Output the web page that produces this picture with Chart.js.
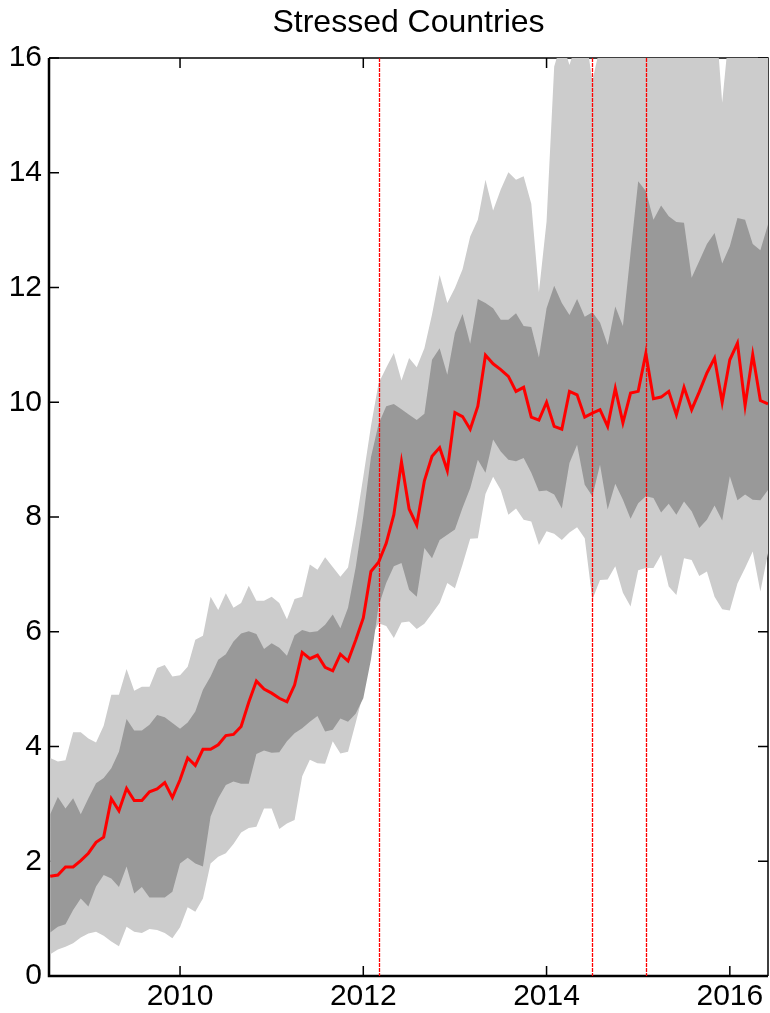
<!DOCTYPE html>
<html>
<head>
<meta charset="utf-8">
<title>Stressed Countries</title>
<script src="https://cdn.jsdelivr.net/npm/chart.js@4.4.1/dist/chart.umd.min.js"></script>
<style>
  html, body { margin: 0; padding: 0; background: #fff; }
  #wrap { width: 770px; height: 1013px; }
</style>
</head>
<body>
<div id="wrap"><canvas id="grafica" width="770" height="1013"></canvas></div>
<script>
// --- Datos (mensual, ago 2008 - jun 2016) ---
const startYear = 2008;
const startMonth = 8; // agosto

// mediana (linea roja)
const median = [
  1.74, 1.76, 1.90, 1.90, 2.01, 2.14, 2.33, 2.42, 3.09, 2.88,
  3.27, 3.06, 3.06, 3.21, 3.26, 3.37, 3.11, 3.42, 3.80, 3.67,
  3.95, 3.95, 4.03, 4.19, 4.21, 4.35, 4.77, 5.14, 5.00, 4.93,
  4.84, 4.78, 5.07, 5.64, 5.53, 5.59, 5.38, 5.32, 5.61, 5.49,
  5.85, 6.24, 7.05, 7.21, 7.54, 8.04, 8.96, 8.14, 7.86, 8.63,
  9.06, 9.21, 8.81, 9.82, 9.75, 9.53, 9.93, 10.82, 10.67, 10.57,
  10.45, 10.19, 10.26, 9.74, 9.69, 10.00, 9.58, 9.53, 10.19, 10.13,
  9.74, 9.81, 9.87, 9.58, 10.24, 9.64, 10.16, 10.19, 10.85, 10.06,
  10.09, 10.19, 9.78, 10.26, 9.87, 10.18, 10.51, 10.77, 10.00, 10.74,
  11.03, 9.94, 10.83, 10.03, 9.97
];

// banda oscura (cuartiles)
const upperInner = [
  2.82, 3.12, 2.92, 3.10, 2.82, 3.10, 3.36, 3.45, 3.62, 3.91,
  4.48, 4.28, 4.28, 4.38, 4.55, 4.51, 4.41, 4.31, 4.42, 4.61,
  4.99, 5.22, 5.51, 5.61, 5.83, 5.97, 6.01, 5.96, 5.70, 5.80,
  5.72, 5.58, 5.94, 6.03, 5.99, 6.01, 6.12, 6.30, 6.06, 6.42,
  7.12, 8.01, 9.04, 9.62, 9.93, 9.97, 9.88, 9.78, 9.69, 9.80,
  10.74, 10.94, 10.48, 11.21, 11.54, 11.02, 11.80, 11.73, 11.64, 11.44,
  11.44, 11.55, 11.33, 11.31, 10.78, 11.64, 12.03, 11.73, 11.52, 11.80,
  11.49, 11.57, 11.39, 11.00, 11.67, 11.33, 12.60, 13.85, 13.68, 13.18,
  13.43, 13.24, 13.14, 13.13, 12.17, 12.46, 12.76, 12.95, 12.42, 12.72,
  13.21, 13.18, 12.76, 12.65, 13.10
];
const lowerInner = [
  0.76, 0.86, 0.90, 1.15, 1.35, 1.21, 1.56, 1.76, 1.70, 1.55,
  1.91, 1.44, 1.55, 1.37, 1.37, 1.37, 1.47, 1.96, 2.06, 1.96,
  1.91, 2.78, 3.10, 3.33, 3.39, 3.35, 3.35, 3.87, 3.93, 3.89,
  3.90, 4.09, 4.23, 4.32, 4.43, 4.53, 4.26, 4.29, 4.49, 4.43,
  4.57, 4.84, 5.51, 6.45, 6.85, 7.14, 7.20, 6.73, 6.61, 7.46,
  7.28, 7.60, 7.69, 7.78, 8.16, 8.50, 9.00, 8.77, 9.35, 9.14,
  9.00, 8.97, 9.03, 8.77, 8.45, 8.46, 8.39, 8.15, 8.94, 9.26,
  8.56, 8.36, 8.91, 8.13, 8.58, 8.30, 7.97, 8.24, 8.36, 8.33,
  8.08, 8.23, 8.04, 8.27, 8.10, 7.81, 7.95, 8.20, 7.94, 8.71,
  8.29, 8.39, 8.30, 8.29, 8.47
];

// banda clara (percentiles extremos); arriba de 16 queda recortado
const upperOuter = [
  3.80, 3.74, 3.76, 4.25, 4.25, 4.14, 4.07, 4.36, 4.90, 4.90,
  5.35, 4.97, 5.04, 5.04, 5.37, 5.42, 5.22, 5.24, 5.39, 5.86,
  5.93, 6.61, 6.38, 6.67, 6.42, 6.50, 6.80, 6.54, 6.54, 6.61,
  6.50, 6.22, 6.57, 6.61, 7.17, 7.08, 7.30, 7.13, 6.96, 7.12,
  7.86, 8.70, 9.58, 10.33, 10.60, 10.86, 10.38, 10.77, 10.61, 10.94,
  11.53, 12.22, 11.73, 11.99, 12.32, 12.89, 13.18, 13.88, 13.34, 13.71,
  14.01, 13.88, 13.94, 13.46, 11.92, 13.15, 15.85, 16.30, 15.88, 16.30,
  16.50, 15.60, 16.20, 17.00, 17.50, 18.00, 17.50, 18.50, 19.00, 18.50,
  18.00, 18.50, 18.00, 18.50, 17.50, 18.00, 17.50, 17.00, 15.22, 16.60,
  17.50, 18.00, 18.50, 18.00, 18.50
];
const lowerOuter = [
  0.38, 0.46, 0.51, 0.57, 0.67, 0.74, 0.77, 0.70, 0.60, 0.52,
  0.86, 0.77, 0.75, 0.82, 0.80, 0.75, 0.66, 0.85, 1.20, 1.12,
  1.35, 1.96, 2.08, 2.14, 2.30, 2.50, 2.58, 2.60, 2.92, 2.92,
  2.56, 2.66, 2.72, 3.48, 3.77, 3.71, 3.70, 4.09, 3.88, 3.91,
  4.41, 4.93, 5.90, 6.15, 6.10, 5.89, 6.16, 6.18, 6.05, 6.14,
  6.32, 6.50, 6.85, 6.76, 7.17, 7.62, 7.63, 8.40, 8.70, 8.47,
  8.04, 8.15, 7.95, 7.92, 7.51, 7.75, 7.71, 7.60, 7.73, 7.82,
  7.63, 6.56, 6.90, 6.91, 7.14, 6.68, 6.44, 7.07, 7.11, 7.11,
  7.34, 6.79, 6.64, 7.28, 7.25, 6.97, 7.05, 6.61, 6.39, 6.37,
  6.84, 7.11, 7.40, 6.70, 7.37
];

// fechas de las lineas verticales (mar 2012, jul 2014, feb 2015)
const eventDates = [2012 + 2 / 12, 2014 + 6 / 12, 2015 + 1 / 12];

const xTickValues = [2010, 2012, 2014, 2016];
const yTickValues = [0, 2, 4, 6, 8, 10, 12, 14, 16];

// --- Construir puntos ---
const fechas = median.map((_, i) => startYear + (startMonth - 1 + i) / 12);
const toPoints = serie => serie.map((v, i) => ({ x: fechas[i], y: v }));

const FONT = "'Liberation Sans', Arial, sans-serif";

// ejes en caja con marcas hacia adentro (debajo de las bandas, como el original)
const cajaEjes = {
  id: 'cajaEjes',
  beforeDatasetsDraw(chart) {
    const { ctx, chartArea: a, scales } = chart;
    ctx.save();
    ctx.strokeStyle = '#000';
    ctx.lineWidth = 1.5;
    ctx.beginPath();
    ctx.moveTo(a.left, a.top); ctx.lineTo(a.right, a.top); ctx.lineTo(a.right, a.bottom);
    ctx.stroke();
    ctx.lineWidth = 2.5;
    ctx.beginPath();
    ctx.moveTo(a.left, a.top); ctx.lineTo(a.left, a.bottom); ctx.lineTo(a.right, a.bottom);
    ctx.stroke();
    ctx.lineWidth = 1.5;
    ctx.beginPath();
    yTickValues.forEach(v => {
      const py = scales.y.getPixelForValue(v);
      ctx.moveTo(a.left, py); ctx.lineTo(a.left + 10, py);
      ctx.moveTo(a.right, py); ctx.lineTo(a.right - 10, py);
    });
    xTickValues.forEach(v => {
      const px = scales.x.getPixelForValue(v);
      ctx.moveTo(px, a.bottom); ctx.lineTo(px, a.bottom - 10);
      ctx.moveTo(px, a.top); ctx.lineTo(px, a.top + 10);
    });
    ctx.stroke();
    ctx.restore();
  }
};

const lineasEventos = {
  id: 'lineasEventos',
  afterDatasetsDraw(chart) {
    const { ctx, chartArea: a, scales } = chart;
    ctx.save();
    ctx.strokeStyle = '#ff0000';
    ctx.lineWidth = 1.3;
    ctx.setLineDash([4, 1]);
    eventDates.forEach(d => {
      const px = Math.round(scales.x.getPixelForValue(d)) + 0.5;
      ctx.beginPath();
      ctx.moveTo(px, a.top);
      ctx.lineTo(px, a.bottom);
      ctx.stroke();
    });
    ctx.restore();
  }
};

const banda = (data, fill, color, order) => ({
  data: toPoints(data),
  fill: fill,
  backgroundColor: color,
  borderWidth: 0,
  pointRadius: 0,
  tension: 0,
  order: order
});

new Chart(document.getElementById('grafica'), {
  type: 'line',
  data: {
    datasets: [
      banda(lowerOuter, false, '#cccccc', 3),
      banda(upperOuter, 0, '#cccccc', 3),
      banda(lowerInner, false, '#999999', 2),
      banda(upperInner, 2, '#999999', 2),
      {
        data: toPoints(median),
        borderColor: '#ff0000',
        borderWidth: 3,
        pointRadius: 0,
        fill: false,
        tension: 0,
        order: 1
      }
    ]
  },
  options: {
    responsive: false,
    animation: false,
    devicePixelRatio: 1,
    layout: { padding: { left: 0, right: 2, top: 0, bottom: 0 } },
    plugins: {
      legend: { display: false },
      tooltip: { enabled: false },
      title: {
        display: true,
        fullSize: false,
        text: 'Stressed Countries',
        color: '#000',
        font: { family: FONT, size: 32, weight: 'normal' },
        padding: { top: 4, bottom: 15.6 }
      }
    },
    scales: {
      x: {
        type: 'linear',
        min: 2008.57,
        max: 2016 + 5 / 12,
        grid: { display: false, drawTicks: false },
        border: { display: false },
        afterBuildTicks: s => { s.ticks = xTickValues.map(v => ({ value: v })); },
        afterFit: s => { s.height = 37; },
        ticks: {
          color: '#000',
          font: { family: FONT, size: 30 },
          padding: 3,
          maxRotation: 0,
          callback: v => String(v)
        }
      },
      y: {
        min: 0,
        max: 16,
        grid: { display: false, drawTicks: false },
        border: { display: false },
        afterBuildTicks: s => { s.ticks = yTickValues.map(v => ({ value: v })); },
        afterFit: s => { s.width = 49; },
        ticks: {
          color: '#000',
          font: { family: FONT, size: 30 },
          padding: 7,
          callback: v => String(v)
        }
      }
    }
  },
  plugins: [cajaEjes, lineasEventos]
});
</script>
</body>
</html>
